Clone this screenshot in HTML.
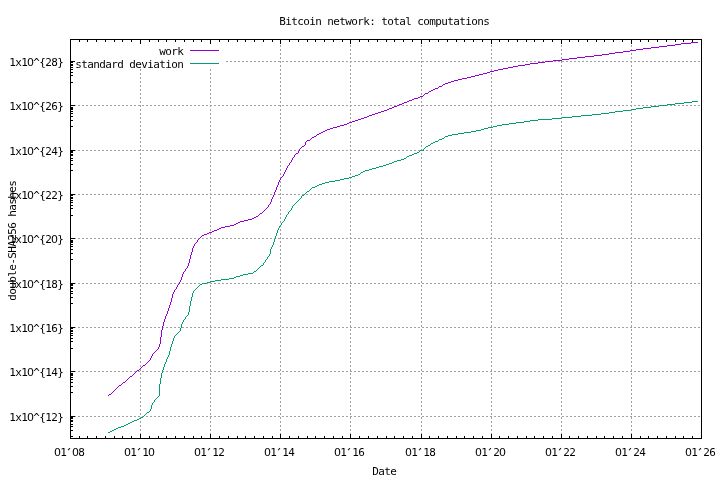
<!DOCTYPE html>
<html lang="en"><head><meta charset="utf-8"><title>Bitcoin network: total computations</title>
<style>html,body{margin:0;padding:0;background:#fff;overflow:hidden}svg{display:block}text{font-family:"DejaVu Sans Mono", "Liberation Mono", monospace;font-size:10px;fill:#000}</style></head><body>
<svg width="720" height="480" viewBox="0 0 720 480">
<rect x="0" y="0" width="720" height="480" fill="#ffffff"/>
<g shape-rendering="crispEdges" stroke="#a0a0a0" stroke-width="1" stroke-dasharray="2 2" fill="none">
<line x1="140.5" y1="439" x2="140.5" y2="40"/>
<line x1="210.5" y1="439" x2="210.5" y2="40"/>
<line x1="280.5" y1="439" x2="280.5" y2="40"/>
<line x1="350.5" y1="439" x2="350.5" y2="40"/>
<line x1="421.5" y1="439" x2="421.5" y2="40"/>
<line x1="491.5" y1="439" x2="491.5" y2="40"/>
<line x1="561.5" y1="439" x2="561.5" y2="40"/>
<line x1="631.5" y1="439" x2="631.5" y2="40"/>
<line x1="70" y1="416.5" x2="701" y2="416.5"/>
<line x1="70" y1="371.5" x2="701" y2="371.5"/>
<line x1="70" y1="327.5" x2="701" y2="327.5"/>
<line x1="70" y1="283.5" x2="701" y2="283.5"/>
<line x1="70" y1="238.5" x2="701" y2="238.5"/>
<line x1="70" y1="194.5" x2="701" y2="194.5"/>
<line x1="70" y1="150.5" x2="701" y2="150.5"/>
<line x1="70" y1="105.5" x2="701" y2="105.5"/>
<line x1="70" y1="61.5" x2="701" y2="61.5"/>
</g>
<rect x="71" y="40" width="155" height="29" fill="#fff"/>
<path d="M691 42.5h7M681 43.5h10M675 44.5h6M667 45.5h8M659 46.5h8M651 47.5h8M643 48.5h8M636 49.5h7M630 50.5h6M623 51.5h7M615 52.5h8M609 53.5h6M602 54.5h7M594 55.5h8M585 56.5h9M577 57.5h8M569 58.5h8M562 59.5h7M553 60.5h9M545 61.5h8M538 62.5h7M530 63.5h8M525 64.5h5M518 65.5h7M513 66.5h5M508 67.5h5M503 68.5h5M498 69.5h5M494 70.5h4M490 71.5h4M487 72.5h3M483 73.5h4M479 74.5h4M475 75.5h4M471 76.5h4M467 77.5h4M462 78.5h5M458 79.5h4M454 80.5h4M451 81.5h3M448 82.5h3M445 83.5h3M443 84.5h2M439 86.5h3M435 88.5h3M433 89.5h2M431 90.5h2M429 91.5h2M425 93.5h3M420 96.5h3M418 97.5h2M414 98.5h4M412 99.5h2M409 100.5h3M407 101.5h2M404 102.5h3M402 103.5h2M399 104.5h3M397 105.5h2M394 106.5h3M392 107.5h2M389 108.5h3M387 109.5h2M384 110.5h3M381 111.5h3M378 112.5h3M375 113.5h3M372 114.5h3M369 115.5h3M367 116.5h2M364 117.5h3M361 118.5h3M358 119.5h3M355 120.5h3M352 121.5h3M349 122.5h3M347 123.5h2M344 124.5h3M340 125.5h4M337 126.5h3M333 127.5h4M330 128.5h3M327 129.5h3M325 130.5h2M323 131.5h2M321 132.5h2M319 133.5h2M317 134.5h2M314 136.5h2M312 137.5h2M307 140.5h3M302 146.5h2M296 153.5h2M260 213.5h2M256 216.5h2M254 217.5h2M252 218.5h2M248 219.5h4M244 220.5h4M240 221.5h4M238 222.5h2M236 223.5h2M234 224.5h2M230 225.5h4M225 226.5h5M221 227.5h4M219 228.5h2M217 229.5h2M214 230.5h3M212 231.5h2M209 232.5h3M207 233.5h2M204 234.5h3M202 235.5h2M143 365.5h2M137 370.5h2M130 376.5h2M123 382.5h2M119 385.5h2M109 394.5h2M108.5 395v1M111.5 393v1M112.5 392v1M113.5 391v1M114.5 390v1M115.5 389v1M116.5 388v1M117.5 387v1M118.5 386v1M121.5 384v1M122.5 383v1M125.5 381v1M126.5 380v1M127.5 379v1M128.5 378v1M129.5 377v1M132.5 375v1M133.5 374v1M134.5 373v1M135.5 372v1M136.5 371v1M139.5 369v1M140.5 368v1M141.5 367v1M142.5 366v1M145.5 364v1M146.5 363v1M147.5 362v1M148.5 361v1M149.5 360v1M150.5 358v2M151.5 356v2M152.5 354v2M153.5 353v1M154.5 352v1M155.5 351v1M156.5 350v1M157.5 349v1M158.5 347v2M159.5 344v3M160.5 337v7M161.5 330v7M162.5 326v4M163.5 322v4M164.5 319v3M165.5 316v3M166.5 314v2M167.5 311v3M168.5 308v3M169.5 305v3M170.5 302v3M171.5 298v4M172.5 294v4M173.5 292v2M174.5 290v2M175.5 289v1M176.5 287v2M177.5 285v2M178.5 284v1M179.5 282v2M180.5 280v2M181.5 277v3M182.5 274v3M183.5 272v2M184.5 271v1M185.5 269v2M186.5 268v1M187.5 266v2M188.5 263v3M189.5 259v4M190.5 255v4M191.5 252v3M192.5 248v4M193.5 246v2M194.5 244v2M195.5 243v1M196.5 242v1M197.5 240v2M198.5 239v1M199.5 238v1M200.5 237v1M201.5 236v1M258.5 215v1M259.5 214v1M262.5 212v1M263.5 211v1M264.5 210v1M265.5 209v1M266.5 208v1M267.5 207v1M268.5 205v2M269.5 204v1M270.5 202v2M271.5 199v3M272.5 197v2M273.5 195v2M274.5 192v3M275.5 190v2M276.5 187v3M277.5 185v2M278.5 182v3M279.5 180v2M280.5 178v2M281.5 177v1M282.5 176v1M283.5 174v2M284.5 172v2M285.5 170v2M286.5 168v2M287.5 166v2M288.5 165v1M289.5 163v2M290.5 162v1M291.5 160v2M292.5 158v2M293.5 157v1M294.5 155v2M295.5 154v1M298.5 151v2M299.5 149v2M300.5 148v1M301.5 147v1M304.5 145v1M305.5 142v3M306.5 141v1M310.5 139v1M311.5 138v1M316.5 135v1M423.5 95v1M424.5 94v1M428.5 92v1M438.5 87v1M442.5 85v1" fill="none" stroke="#9400d3" stroke-width="1" shape-rendering="crispEdges"/>
<path d="M692 101.5h6M684 102.5h8M675 103.5h9M667 104.5h8M659 105.5h8M651 106.5h8M643 107.5h8M636 108.5h7M631 109.5h5M623 110.5h8M615 111.5h8M609 112.5h6M601 113.5h8M592 114.5h9M581 115.5h11M572 116.5h9M562 117.5h10M552 118.5h10M538 119.5h14M530 120.5h8M524 121.5h6M516 122.5h8M509 123.5h7M502 124.5h7M497 125.5h5M493 126.5h4M488 127.5h5M484 128.5h4M481 129.5h3M476 130.5h5M471 131.5h5M464 132.5h7M458 133.5h6M452 134.5h6M448 135.5h4M445 136.5h3M442 138.5h2M439 139.5h3M435 141.5h3M433 142.5h2M431 143.5h2M428 145.5h2M426 146.5h2M420 150.5h4M417 152.5h2M414 153.5h3M412 154.5h2M409 155.5h3M407 156.5h2M404 158.5h2M401 159.5h3M397 160.5h4M394 161.5h3M392 162.5h2M389 163.5h3M386 164.5h3M383 165.5h3M379 166.5h4M376 167.5h3M372 168.5h4M369 169.5h3M365 170.5h4M363 171.5h2M361 172.5h2M358 174.5h2M355 175.5h3M352 176.5h3M349 177.5h3M344 178.5h5M340 179.5h4M335 180.5h5M329 181.5h6M325 182.5h4M322 183.5h3M319 184.5h3M317 185.5h2M315 186.5h2M312 187.5h3M307 191.5h2M302 195.5h2M261 265.5h2M254 271.5h2M248 273.5h5M243 274.5h5M240 275.5h3M236 276.5h4M234 277.5h2M229 278.5h5M221 279.5h8M215 280.5h6M210 281.5h5M207 282.5h3M202 283.5h5M200 284.5h2M147 412.5h2M141 417.5h2M139 418.5h2M137 419.5h2M134 420.5h3M132 421.5h2M130 422.5h2M128 423.5h2M126 424.5h2M124 425.5h2M121 426.5h3M118 427.5h3M116 428.5h2M114 429.5h2M112 430.5h2M110 431.5h2M108 432.5h2M143.5 416v1M144.5 415v1M145.5 414v1M146.5 413v1M149.5 411v1M150.5 409v2M151.5 405v4M152.5 403v2M153.5 402v1M154.5 400v2M155.5 399v1M156.5 398v1M157.5 397v1M158.5 396v1M159.5 384v12M160.5 378v6M161.5 373v5M162.5 370v3M163.5 367v3M164.5 364v3M165.5 362v2M166.5 359v3M167.5 357v2M168.5 355v2M169.5 351v4M170.5 347v4M171.5 344v3M172.5 341v3M173.5 338v3M174.5 336v2M175.5 335v1M176.5 334v1M177.5 333v1M178.5 332v1M179.5 331v1M180.5 328v3M181.5 324v4M182.5 322v2M183.5 320v2M184.5 319v1M185.5 317v2M186.5 316v1M187.5 315v1M188.5 312v3M189.5 306v6M190.5 301v5M191.5 297v4M192.5 293v4M193.5 291v2M194.5 290v1M195.5 289v1M196.5 288v1M197.5 287v1M198.5 286v1M199.5 285v1M253.5 272v1M256.5 270v1M257.5 269v1M258.5 268v1M259.5 267v1M260.5 266v1M263.5 263v2M264.5 262v1M265.5 260v2M266.5 259v1M267.5 257v2M268.5 256v1M269.5 254v2M270.5 249v5M271.5 247v2M272.5 245v2M273.5 242v3M274.5 239v3M275.5 236v3M276.5 233v3M277.5 230v3M278.5 228v2M279.5 226v2M280.5 225v1M281.5 223v2M282.5 222v1M283.5 221v1M284.5 219v2M285.5 217v2M286.5 215v2M287.5 214v1M288.5 212v2M289.5 211v1M290.5 210v1M291.5 208v2M292.5 206v2M293.5 205v1M294.5 204v1M295.5 203v1M296.5 202v1M297.5 201v1M298.5 200v1M299.5 199v1M300.5 198v1M301.5 196v2M304.5 194v1M305.5 193v1M306.5 192v1M309.5 190v1M310.5 189v1M311.5 188v1M360.5 173v1M406.5 157v1M419.5 151v1M423.5 149v1M424.5 148v1M425.5 147v1M430.5 144v1M438.5 140v1M444.5 137v1" fill="none" stroke="#009e73" stroke-width="1" shape-rendering="crispEdges"/>
<g shape-rendering="crispEdges">
<rect x="190" y="50" width="29" height="1" fill="#9400d3"/>
<rect x="190" y="63" width="29" height="1" fill="#009e73"/>
</g>
<g shape-rendering="crispEdges" fill="#000">
<rect x="70" y="39" width="632" height="1"/>
<rect x="70" y="438" width="632" height="1"/>
<rect x="70" y="39" width="1" height="400"/>
<rect x="701" y="39" width="1" height="400"/>
<rect x="70" y="434" width="1" height="5"/>
<rect x="70" y="39" width="1" height="5"/>
<rect x="79" y="436" width="1" height="3"/>
<rect x="79" y="39" width="1" height="3"/>
<rect x="87" y="436" width="1" height="3"/>
<rect x="87" y="39" width="1" height="3"/>
<rect x="96" y="436" width="1" height="3"/>
<rect x="96" y="39" width="1" height="3"/>
<rect x="105" y="436" width="1" height="3"/>
<rect x="105" y="39" width="1" height="3"/>
<rect x="114" y="436" width="1" height="3"/>
<rect x="114" y="39" width="1" height="3"/>
<rect x="122" y="436" width="1" height="3"/>
<rect x="122" y="39" width="1" height="3"/>
<rect x="131" y="436" width="1" height="3"/>
<rect x="131" y="39" width="1" height="3"/>
<rect x="140" y="434" width="1" height="5"/>
<rect x="140" y="39" width="1" height="5"/>
<rect x="149" y="436" width="1" height="3"/>
<rect x="149" y="39" width="1" height="3"/>
<rect x="158" y="436" width="1" height="3"/>
<rect x="158" y="39" width="1" height="3"/>
<rect x="166" y="436" width="1" height="3"/>
<rect x="166" y="39" width="1" height="3"/>
<rect x="175" y="436" width="1" height="3"/>
<rect x="175" y="39" width="1" height="3"/>
<rect x="184" y="436" width="1" height="3"/>
<rect x="184" y="39" width="1" height="3"/>
<rect x="193" y="436" width="1" height="3"/>
<rect x="193" y="39" width="1" height="3"/>
<rect x="201" y="436" width="1" height="3"/>
<rect x="201" y="39" width="1" height="3"/>
<rect x="210" y="434" width="1" height="5"/>
<rect x="210" y="39" width="1" height="5"/>
<rect x="219" y="436" width="1" height="3"/>
<rect x="219" y="39" width="1" height="3"/>
<rect x="228" y="436" width="1" height="3"/>
<rect x="228" y="39" width="1" height="3"/>
<rect x="237" y="436" width="1" height="3"/>
<rect x="237" y="39" width="1" height="3"/>
<rect x="245" y="436" width="1" height="3"/>
<rect x="245" y="39" width="1" height="3"/>
<rect x="254" y="436" width="1" height="3"/>
<rect x="254" y="39" width="1" height="3"/>
<rect x="263" y="436" width="1" height="3"/>
<rect x="263" y="39" width="1" height="3"/>
<rect x="272" y="436" width="1" height="3"/>
<rect x="272" y="39" width="1" height="3"/>
<rect x="280" y="434" width="1" height="5"/>
<rect x="280" y="39" width="1" height="5"/>
<rect x="289" y="436" width="1" height="3"/>
<rect x="289" y="39" width="1" height="3"/>
<rect x="298" y="436" width="1" height="3"/>
<rect x="298" y="39" width="1" height="3"/>
<rect x="307" y="436" width="1" height="3"/>
<rect x="307" y="39" width="1" height="3"/>
<rect x="315" y="436" width="1" height="3"/>
<rect x="315" y="39" width="1" height="3"/>
<rect x="324" y="436" width="1" height="3"/>
<rect x="324" y="39" width="1" height="3"/>
<rect x="333" y="436" width="1" height="3"/>
<rect x="333" y="39" width="1" height="3"/>
<rect x="342" y="436" width="1" height="3"/>
<rect x="342" y="39" width="1" height="3"/>
<rect x="350" y="434" width="1" height="5"/>
<rect x="350" y="39" width="1" height="5"/>
<rect x="359" y="436" width="1" height="3"/>
<rect x="359" y="39" width="1" height="3"/>
<rect x="368" y="436" width="1" height="3"/>
<rect x="368" y="39" width="1" height="3"/>
<rect x="377" y="436" width="1" height="3"/>
<rect x="377" y="39" width="1" height="3"/>
<rect x="386" y="436" width="1" height="3"/>
<rect x="386" y="39" width="1" height="3"/>
<rect x="394" y="436" width="1" height="3"/>
<rect x="394" y="39" width="1" height="3"/>
<rect x="403" y="436" width="1" height="3"/>
<rect x="403" y="39" width="1" height="3"/>
<rect x="412" y="436" width="1" height="3"/>
<rect x="412" y="39" width="1" height="3"/>
<rect x="421" y="434" width="1" height="5"/>
<rect x="421" y="39" width="1" height="5"/>
<rect x="429" y="436" width="1" height="3"/>
<rect x="429" y="39" width="1" height="3"/>
<rect x="438" y="436" width="1" height="3"/>
<rect x="438" y="39" width="1" height="3"/>
<rect x="447" y="436" width="1" height="3"/>
<rect x="447" y="39" width="1" height="3"/>
<rect x="456" y="436" width="1" height="3"/>
<rect x="456" y="39" width="1" height="3"/>
<rect x="464" y="436" width="1" height="3"/>
<rect x="464" y="39" width="1" height="3"/>
<rect x="473" y="436" width="1" height="3"/>
<rect x="473" y="39" width="1" height="3"/>
<rect x="482" y="436" width="1" height="3"/>
<rect x="482" y="39" width="1" height="3"/>
<rect x="491" y="434" width="1" height="5"/>
<rect x="491" y="39" width="1" height="5"/>
<rect x="499" y="436" width="1" height="3"/>
<rect x="499" y="39" width="1" height="3"/>
<rect x="508" y="436" width="1" height="3"/>
<rect x="508" y="39" width="1" height="3"/>
<rect x="517" y="436" width="1" height="3"/>
<rect x="517" y="39" width="1" height="3"/>
<rect x="526" y="436" width="1" height="3"/>
<rect x="526" y="39" width="1" height="3"/>
<rect x="534" y="436" width="1" height="3"/>
<rect x="534" y="39" width="1" height="3"/>
<rect x="543" y="436" width="1" height="3"/>
<rect x="543" y="39" width="1" height="3"/>
<rect x="552" y="436" width="1" height="3"/>
<rect x="552" y="39" width="1" height="3"/>
<rect x="561" y="434" width="1" height="5"/>
<rect x="561" y="39" width="1" height="5"/>
<rect x="569" y="436" width="1" height="3"/>
<rect x="569" y="39" width="1" height="3"/>
<rect x="578" y="436" width="1" height="3"/>
<rect x="578" y="39" width="1" height="3"/>
<rect x="587" y="436" width="1" height="3"/>
<rect x="587" y="39" width="1" height="3"/>
<rect x="596" y="436" width="1" height="3"/>
<rect x="596" y="39" width="1" height="3"/>
<rect x="604" y="436" width="1" height="3"/>
<rect x="604" y="39" width="1" height="3"/>
<rect x="613" y="436" width="1" height="3"/>
<rect x="613" y="39" width="1" height="3"/>
<rect x="622" y="436" width="1" height="3"/>
<rect x="622" y="39" width="1" height="3"/>
<rect x="631" y="434" width="1" height="5"/>
<rect x="631" y="39" width="1" height="5"/>
<rect x="640" y="436" width="1" height="3"/>
<rect x="640" y="39" width="1" height="3"/>
<rect x="648" y="436" width="1" height="3"/>
<rect x="648" y="39" width="1" height="3"/>
<rect x="657" y="436" width="1" height="3"/>
<rect x="657" y="39" width="1" height="3"/>
<rect x="666" y="436" width="1" height="3"/>
<rect x="666" y="39" width="1" height="3"/>
<rect x="675" y="436" width="1" height="3"/>
<rect x="675" y="39" width="1" height="3"/>
<rect x="683" y="436" width="1" height="3"/>
<rect x="683" y="39" width="1" height="3"/>
<rect x="692" y="436" width="1" height="3"/>
<rect x="692" y="39" width="1" height="3"/>
<rect x="701" y="434" width="1" height="5"/>
<rect x="701" y="39" width="1" height="5"/>
<rect x="70" y="416" width="5" height="1"/>
<rect x="70" y="436" width="3" height="1"/>
<rect x="70" y="430" width="3" height="1"/>
<rect x="70" y="426" width="3" height="1"/>
<rect x="70" y="424" width="3" height="1"/>
<rect x="70" y="421" width="3" height="1"/>
<rect x="70" y="420" width="3" height="1"/>
<rect x="70" y="418" width="3" height="1"/>
<rect x="70" y="417" width="3" height="1"/>
<rect x="70" y="371" width="5" height="1"/>
<rect x="70" y="392" width="3" height="1"/>
<rect x="70" y="386" width="3" height="1"/>
<rect x="70" y="382" width="3" height="1"/>
<rect x="70" y="379" width="3" height="1"/>
<rect x="70" y="377" width="3" height="1"/>
<rect x="70" y="375" width="3" height="1"/>
<rect x="70" y="374" width="3" height="1"/>
<rect x="70" y="373" width="3" height="1"/>
<rect x="70" y="327" width="5" height="1"/>
<rect x="70" y="348" width="3" height="1"/>
<rect x="70" y="341" width="3" height="1"/>
<rect x="70" y="338" width="3" height="1"/>
<rect x="70" y="335" width="3" height="1"/>
<rect x="70" y="333" width="3" height="1"/>
<rect x="70" y="331" width="3" height="1"/>
<rect x="70" y="330" width="3" height="1"/>
<rect x="70" y="328" width="3" height="1"/>
<rect x="70" y="283" width="5" height="1"/>
<rect x="70" y="303" width="3" height="1"/>
<rect x="70" y="297" width="3" height="1"/>
<rect x="70" y="293" width="3" height="1"/>
<rect x="70" y="291" width="3" height="1"/>
<rect x="70" y="288" width="3" height="1"/>
<rect x="70" y="287" width="3" height="1"/>
<rect x="70" y="285" width="3" height="1"/>
<rect x="70" y="284" width="3" height="1"/>
<rect x="70" y="238" width="5" height="1"/>
<rect x="70" y="259" width="3" height="1"/>
<rect x="70" y="253" width="3" height="1"/>
<rect x="70" y="249" width="3" height="1"/>
<rect x="70" y="246" width="3" height="1"/>
<rect x="70" y="244" width="3" height="1"/>
<rect x="70" y="242" width="3" height="1"/>
<rect x="70" y="241" width="3" height="1"/>
<rect x="70" y="240" width="3" height="1"/>
<rect x="70" y="194" width="5" height="1"/>
<rect x="70" y="215" width="3" height="1"/>
<rect x="70" y="208" width="3" height="1"/>
<rect x="70" y="205" width="3" height="1"/>
<rect x="70" y="202" width="3" height="1"/>
<rect x="70" y="200" width="3" height="1"/>
<rect x="70" y="198" width="3" height="1"/>
<rect x="70" y="197" width="3" height="1"/>
<rect x="70" y="195" width="3" height="1"/>
<rect x="70" y="150" width="5" height="1"/>
<rect x="70" y="170" width="3" height="1"/>
<rect x="70" y="164" width="3" height="1"/>
<rect x="70" y="160" width="3" height="1"/>
<rect x="70" y="158" width="3" height="1"/>
<rect x="70" y="155" width="3" height="1"/>
<rect x="70" y="154" width="3" height="1"/>
<rect x="70" y="152" width="3" height="1"/>
<rect x="70" y="151" width="3" height="1"/>
<rect x="70" y="105" width="5" height="1"/>
<rect x="70" y="126" width="3" height="1"/>
<rect x="70" y="120" width="3" height="1"/>
<rect x="70" y="116" width="3" height="1"/>
<rect x="70" y="113" width="3" height="1"/>
<rect x="70" y="111" width="3" height="1"/>
<rect x="70" y="109" width="3" height="1"/>
<rect x="70" y="108" width="3" height="1"/>
<rect x="70" y="107" width="3" height="1"/>
<rect x="70" y="61" width="5" height="1"/>
<rect x="70" y="82" width="3" height="1"/>
<rect x="70" y="75" width="3" height="1"/>
<rect x="70" y="72" width="3" height="1"/>
<rect x="70" y="69" width="3" height="1"/>
<rect x="70" y="67" width="3" height="1"/>
<rect x="70" y="65" width="3" height="1"/>
<rect x="70" y="64" width="3" height="1"/>
<rect x="70" y="62" width="3" height="1"/>
</g>
<g opacity="0.999">
<text transform="translate(279.5,25) scale(1.1000,1)" x="2.73 8.18 13.64 19.09 24.55 30.00 35.45 40.91 46.36 51.82 57.27 62.73 68.18 73.64 79.09 84.55 90.00 95.45 100.91 106.36 111.82 117.27 122.73 128.18 133.64 139.09 144.55 150.00 155.45 160.91 166.36 171.82 177.27 182.73 188.18" y="0 0 0 0 0 0 0 0 0 0 0 0 0 0 0 0 0 0 0 0 0 0 0 0 0 0 0 0 0 0 0 0 0 0 0" text-anchor="middle" xml:space="preserve">Bitcoin network: total computations</text>
<text transform="translate(372.5,475) scale(1.1000,1)" x="2.73 8.18 13.64 19.09" y="0 0 0 0" text-anchor="middle" xml:space="preserve">Date</text>
<text transform="translate(54.5,456) scale(1.1000,1)" x="2.73 8.18 13.64 19.09 24.55" y="0 0 0 0 0" text-anchor="middle" xml:space="preserve"><tspan style="font-family:'DejaVu Sans', 'Liberation Sans', sans-serif;font-size:10px">0</tspan>1<tspan rotate="40" dx="-3.5" dy="-4.3">'</tspan><tspan style="font-family:'DejaVu Sans', 'Liberation Sans', sans-serif;font-size:10px">0</tspan>8</text>
<text transform="translate(124.5,456) scale(1.1000,1)" x="2.73 8.18 13.64 19.09 24.55" y="0 0 0 0 0" text-anchor="middle" xml:space="preserve"><tspan style="font-family:'DejaVu Sans', 'Liberation Sans', sans-serif;font-size:10px">0</tspan>1<tspan rotate="40" dx="-3.5" dy="-4.3">'</tspan>1<tspan style="font-family:'DejaVu Sans', 'Liberation Sans', sans-serif;font-size:10px">0</tspan></text>
<text transform="translate(194.5,456) scale(1.1000,1)" x="2.73 8.18 13.64 19.09 24.55" y="0 0 0 0 0" text-anchor="middle" xml:space="preserve"><tspan style="font-family:'DejaVu Sans', 'Liberation Sans', sans-serif;font-size:10px">0</tspan>1<tspan rotate="40" dx="-3.5" dy="-4.3">'</tspan>12</text>
<text transform="translate(264.5,456) scale(1.1000,1)" x="2.73 8.18 13.64 19.09 24.55" y="0 0 0 0 0" text-anchor="middle" xml:space="preserve"><tspan style="font-family:'DejaVu Sans', 'Liberation Sans', sans-serif;font-size:10px">0</tspan>1<tspan rotate="40" dx="-3.5" dy="-4.3">'</tspan>14</text>
<text transform="translate(334.5,456) scale(1.1000,1)" x="2.73 8.18 13.64 19.09 24.55" y="0 0 0 0 0" text-anchor="middle" xml:space="preserve"><tspan style="font-family:'DejaVu Sans', 'Liberation Sans', sans-serif;font-size:10px">0</tspan>1<tspan rotate="40" dx="-3.5" dy="-4.3">'</tspan>16</text>
<text transform="translate(405.5,456) scale(1.1000,1)" x="2.73 8.18 13.64 19.09 24.55" y="0 0 0 0 0" text-anchor="middle" xml:space="preserve"><tspan style="font-family:'DejaVu Sans', 'Liberation Sans', sans-serif;font-size:10px">0</tspan>1<tspan rotate="40" dx="-3.5" dy="-4.3">'</tspan>18</text>
<text transform="translate(475.5,456) scale(1.1000,1)" x="2.73 8.18 13.64 19.09 24.55" y="0 0 0 0 0" text-anchor="middle" xml:space="preserve"><tspan style="font-family:'DejaVu Sans', 'Liberation Sans', sans-serif;font-size:10px">0</tspan>1<tspan rotate="40" dx="-3.5" dy="-4.3">'</tspan>2<tspan style="font-family:'DejaVu Sans', 'Liberation Sans', sans-serif;font-size:10px">0</tspan></text>
<text transform="translate(545.5,456) scale(1.1000,1)" x="2.73 8.18 13.64 19.09 24.55" y="0 0 0 0 0" text-anchor="middle" xml:space="preserve"><tspan style="font-family:'DejaVu Sans', 'Liberation Sans', sans-serif;font-size:10px">0</tspan>1<tspan rotate="40" dx="-3.5" dy="-4.3">'</tspan>22</text>
<text transform="translate(615.5,456) scale(1.1000,1)" x="2.73 8.18 13.64 19.09 24.55" y="0 0 0 0 0" text-anchor="middle" xml:space="preserve"><tspan style="font-family:'DejaVu Sans', 'Liberation Sans', sans-serif;font-size:10px">0</tspan>1<tspan rotate="40" dx="-3.5" dy="-4.3">'</tspan>24</text>
<text transform="translate(685.5,456) scale(1.1000,1)" x="2.73 8.18 13.64 19.09 24.55" y="0 0 0 0 0" text-anchor="middle" xml:space="preserve"><tspan style="font-family:'DejaVu Sans', 'Liberation Sans', sans-serif;font-size:10px">0</tspan>1<tspan rotate="40" dx="-3.5" dy="-4.3">'</tspan>26</text>
<text transform="translate(9.5,421) scale(1.1000,1)" x="2.73 8.18 13.64 19.09 24.55 30.00 35.45 40.91 46.36" y="0 0 0 0 0 0 0 0 0" text-anchor="middle" xml:space="preserve">1x1<tspan style="font-family:'DejaVu Sans', 'Liberation Sans', sans-serif;font-size:10px">0</tspan>^{12}</text>
<text transform="translate(9.5,376) scale(1.1000,1)" x="2.73 8.18 13.64 19.09 24.55 30.00 35.45 40.91 46.36" y="0 0 0 0 0 0 0 0 0" text-anchor="middle" xml:space="preserve">1x1<tspan style="font-family:'DejaVu Sans', 'Liberation Sans', sans-serif;font-size:10px">0</tspan>^{14}</text>
<text transform="translate(9.5,332) scale(1.1000,1)" x="2.73 8.18 13.64 19.09 24.55 30.00 35.45 40.91 46.36" y="0 0 0 0 0 0 0 0 0" text-anchor="middle" xml:space="preserve">1x1<tspan style="font-family:'DejaVu Sans', 'Liberation Sans', sans-serif;font-size:10px">0</tspan>^{16}</text>
<text transform="translate(9.5,288) scale(1.1000,1)" x="2.73 8.18 13.64 19.09 24.55 30.00 35.45 40.91 46.36" y="0 0 0 0 0 0 0 0 0" text-anchor="middle" xml:space="preserve">1x1<tspan style="font-family:'DejaVu Sans', 'Liberation Sans', sans-serif;font-size:10px">0</tspan>^{18}</text>
<text transform="translate(9.5,243) scale(1.1000,1)" x="2.73 8.18 13.64 19.09 24.55 30.00 35.45 40.91 46.36" y="0 0 0 0 0 0 0 0 0" text-anchor="middle" xml:space="preserve">1x1<tspan style="font-family:'DejaVu Sans', 'Liberation Sans', sans-serif;font-size:10px">0</tspan>^{2<tspan style="font-family:'DejaVu Sans', 'Liberation Sans', sans-serif;font-size:10px">0</tspan>}</text>
<text transform="translate(9.5,199) scale(1.1000,1)" x="2.73 8.18 13.64 19.09 24.55 30.00 35.45 40.91 46.36" y="0 0 0 0 0 0 0 0 0" text-anchor="middle" xml:space="preserve">1x1<tspan style="font-family:'DejaVu Sans', 'Liberation Sans', sans-serif;font-size:10px">0</tspan>^{22}</text>
<text transform="translate(9.5,155) scale(1.1000,1)" x="2.73 8.18 13.64 19.09 24.55 30.00 35.45 40.91 46.36" y="0 0 0 0 0 0 0 0 0" text-anchor="middle" xml:space="preserve">1x1<tspan style="font-family:'DejaVu Sans', 'Liberation Sans', sans-serif;font-size:10px">0</tspan>^{24}</text>
<text transform="translate(9.5,110) scale(1.1000,1)" x="2.73 8.18 13.64 19.09 24.55 30.00 35.45 40.91 46.36" y="0 0 0 0 0 0 0 0 0" text-anchor="middle" xml:space="preserve">1x1<tspan style="font-family:'DejaVu Sans', 'Liberation Sans', sans-serif;font-size:10px">0</tspan>^{26}</text>
<text transform="translate(9.5,66) scale(1.1000,1)" x="2.73 8.18 13.64 19.09 24.55 30.00 35.45 40.91 46.36" y="0 0 0 0 0 0 0 0 0" text-anchor="middle" xml:space="preserve">1x1<tspan style="font-family:'DejaVu Sans', 'Liberation Sans', sans-serif;font-size:10px">0</tspan>^{28}</text>
<text transform="translate(159.5,55) scale(1.1000,1)" x="2.73 8.18 13.64 19.09" y="0 0 0 0" text-anchor="middle" xml:space="preserve">work</text>
<text transform="translate(75.5,68) scale(1.1000,1)" x="2.73 8.18 13.64 19.09 24.55 30.00 35.45 40.91 46.36 51.82 57.27 62.73 68.18 73.64 79.09 84.55 90.00 95.45" y="0 0 0 0 0 0 0 0 0 0 0 0 0 0 0 0 0 0" text-anchor="middle" xml:space="preserve">standard deviation</text>
<text transform="translate(16,300.5) rotate(-90) scale(1.1000,1)" x="2.73 8.18 13.64 19.09 24.55 30.00 35.45 40.91 46.36 51.82 57.27 62.73 68.18 73.64 79.09 84.55 90.00 95.45 100.91 106.36" y="0 0 0 0 0 0 0 0 0 0 0 0 0 0 0 0 0 0 0 0" text-anchor="middle" xml:space="preserve">double-SHA256 hashes</text>
</g>
</svg></body></html>
